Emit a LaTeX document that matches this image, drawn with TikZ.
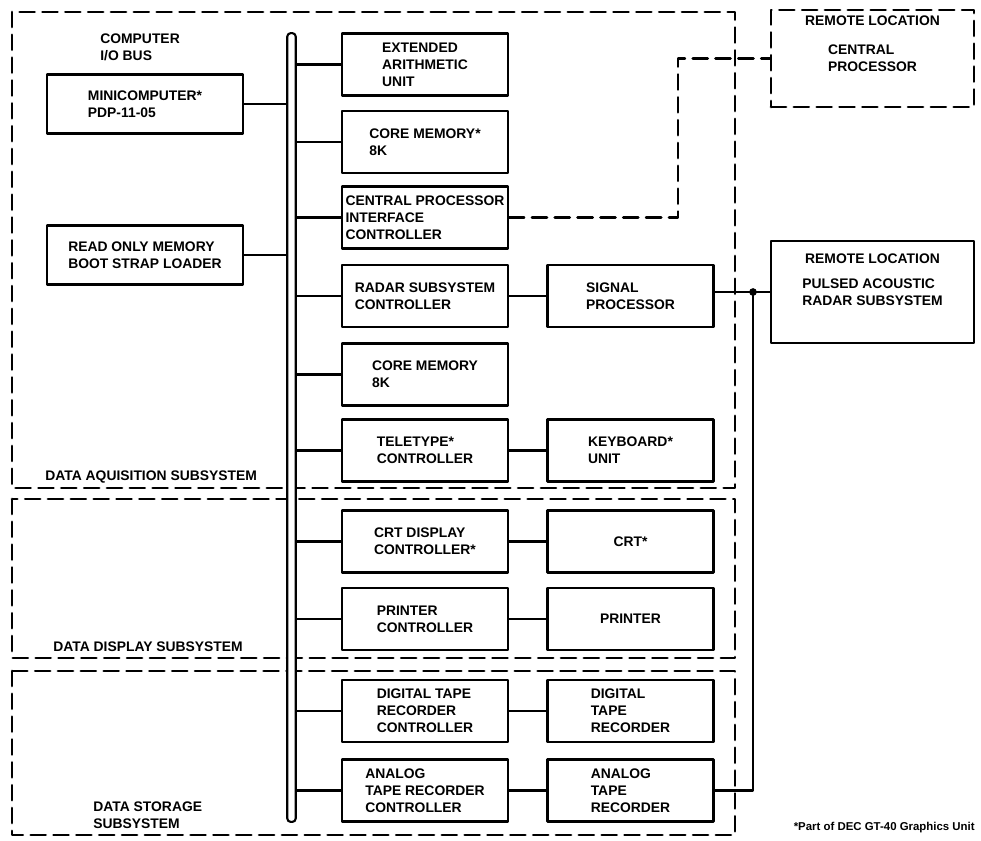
\documentclass[tikz,border=0pt]{standalone}
\usepackage{fontspec}
\setmainfont{Liberation Sans}
\usepackage{tikz}
\usetikzlibrary{positioning}

\begin{document}
\begin{tikzpicture}[line cap=round,line join=round,x=0.02cm,y=-0.02cm,
  font=\fontsize{7.9}{9.6}\selectfont\bfseries,
  unitbox/.style={draw,line width=1.3pt,minimum width=3.32cm,minimum height=1.24cm,align=left,inner sep=1pt},
  sidebox/.style={unitbox,minimum width=3.92cm,minimum height=1.18cm},
  subsys/.style={line width=1.6pt,dash pattern=on 8.5pt off 4.5pt},
  link/.style={line width=1.3pt},
  tag/.style={anchor=west,align=left,inner sep=0pt}]
\useasboundingbox (0,0) rectangle (981,840);
% subsystem frames
\draw [subsys] (12,12) rectangle (735,488);
\draw [subsys] (12,499) rectangle (735,658);
\draw [subsys] (12,671) rectangle (735,835);
\node[tag] at (45,477) {DATA AQUISITION SUBSYSTEM};
\node[tag] at (53,647) {DATA DISPLAY SUBSYSTEM};
\node[tag] at (93,815) {DATA STORAGE\\SUBSYSTEM};
% i/o bus
\node (bus) [draw,fill=white,line width=1.2pt,rounded corners=2pt,minimum width=0.17cm,minimum height=15.78cm,inner sep=0pt] at (291.5,427.5) {};
\node[tag] at (100,47) {COMPUTER\\I/O BUS};
% left column
\node (mini) [sidebox] at (145,104) {MINICOMPUTER*\\PDP-11-05};
\node (rom) [sidebox] at (145,255) {READ ONLY MEMORY\\BOOT STRAP LOADER};
% middle column
\node (eau) [unitbox] at (425,64.5) {EXTENDED\\ARITHMETIC\\UNIT};
\node (core1) [unitbox] at (425,142) {CORE MEMORY*\\8K};
\node (cpic) [unitbox] at (425,217.5) {CENTRAL PROCESSOR\\INTERFACE\\CONTROLLER};
\node (rsc) [unitbox] at (425,296) {RADAR SUBSYSTEM\\CONTROLLER};
\node (core2) [unitbox] at (425,374.5) {CORE MEMORY\\8K};
\node (tty) [unitbox] at (425,450.5) {TELETYPE*\\CONTROLLER};
\node (crtc) [unitbox] at (425,541.5) {CRT DISPLAY\\CONTROLLER*};
\node (prc) [unitbox] at (425,619) {PRINTER\\CONTROLLER};
\node (dtrc) [unitbox] at (425,711) {DIGITAL TAPE\\RECORDER\\CONTROLLER};
\node (atrc) [unitbox] at (425,790.5) {ANALOG\\TAPE RECORDER\\CONTROLLER};
% right column
\node (sig) [unitbox] at (630.5,296) {SIGNAL\\PROCESSOR};
\node (kbd) [unitbox] at (630.5,450.5) {KEYBOARD*\\UNIT};
\node (crt) [unitbox] at (630.5,541.5) {CRT*};
\node (prn) [unitbox] at (630.5,619) {PRINTER};
\node (dtr) [unitbox] at (630.5,711) {DIGITAL\\TAPE\\RECORDER};
\node (atr) [unitbox] at (630.5,790.5) {ANALOG\\TAPE\\RECORDER};
% remote locations
\node (remcp) [draw,subsys,minimum width=4.06cm,minimum height=1.94cm,align=left] at (872.5,58.5) {CENTRAL\\PROCESSOR};
\node[inner sep=0pt,below=4pt of remcp.north] {REMOTE LOCATION};
\node (remrad) [unitbox,minimum width=4.06cm,minimum height=2.04cm] at (872.5,292) {PULSED ACOUSTIC\\RADAR SUBSYSTEM};
\node[inner sep=0pt,below=8pt of remrad.north] {REMOTE LOCATION};
% bus connections
\draw [link] (mini.east) -- (mini.east -| bus.west);
\draw [link] (rom.east) -- (rom.east -| bus.west);
\foreach \u in {eau,core1,cpic,rsc,core2,tty,crtc,prc,dtrc,atrc}
  \draw [link] (\u.west) -- (\u.west -| bus.east);
% device connections
\draw [link] (rsc) -- (sig);
\draw [link] (tty) -- (kbd);
\draw [link] (crtc) -- (crt);
\draw [link] (prc) -- (prn);
\draw [link] (dtrc) -- (dtr);
\draw [link] (atrc) -- (atr);
\coordinate (jn) at (753,292);
\draw [link] (sig.east |- jn) -- (jn -| remrad.west);
\draw [link] (atr.east) -| (jn);
\fill (jn) circle (2.2pt);
\coordinate (cpturn) at (678,58.5);
\draw [subsys] (cpic.east) -| (cpturn) -- (remcp.west);
% footnote
\node[anchor=east,inner sep=0pt,font=\fontsize{6.5}{8}\selectfont\bfseries] at (975,828) {*Part of DEC GT-40 Graphics Unit};
\end{tikzpicture}
\end{document}
